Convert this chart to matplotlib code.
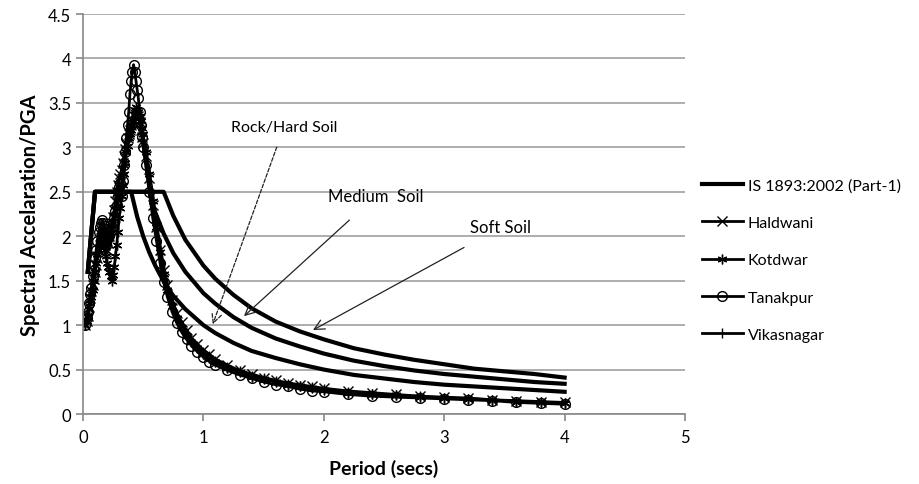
import matplotlib.pyplot as plt

plt.rcParams['font.family'] = ['Lato', 'DejaVu Sans']

# IS 1893 design spectra
code_period = [0.04, 0.10, 0.40, 0.45, 0.50, 0.55, 0.60, 0.67, 0.75, 0.85, 1.0, 1.1,
               1.25, 1.4, 1.6, 1.8, 2.0, 2.25, 2.5, 2.75, 3.0, 3.25, 3.5, 3.75, 4.0]
rock_sa = [1.6, 2.5, 2.5, 2.22, 2.0, 1.82, 1.67, 1.49, 1.33, 1.18, 1.0, 0.91,
           0.80, 0.71, 0.63, 0.56, 0.50, 0.44, 0.40, 0.36, 0.33, 0.31, 0.29, 0.27, 0.25]
medium_sa = [1.6, 2.5, 2.5, 2.5, 2.5, 2.5, 2.27, 2.03, 1.81, 1.60, 1.36, 1.24,
             1.09, 0.97, 0.85, 0.76, 0.68, 0.60, 0.54, 0.49, 0.45, 0.42, 0.39, 0.36, 0.34]
soft_sa = [1.6, 2.5, 2.5, 2.5, 2.5, 2.5, 2.5, 2.5, 2.23, 1.96, 1.67, 1.52,
           1.34, 1.19, 1.04, 0.93, 0.84, 0.74, 0.67, 0.61, 0.56, 0.51, 0.48, 0.45, 0.41]

# recorded spectra
period = [0.02, 0.03, 0.04, 0.05, 0.06, 0.07, 0.08, 0.09, 0.10, 0.11, 0.12, 0.13, 0.14, 0.15,
          0.16, 0.17, 0.18, 0.19, 0.20, 0.21, 0.22, 0.23, 0.24, 0.25, 0.26, 0.27, 0.28, 0.29,
          0.30, 0.31, 0.32, 0.33, 0.34, 0.35, 0.36, 0.37, 0.38, 0.39, 0.40, 0.41, 0.42, 0.43,
          0.44, 0.45, 0.46, 0.47, 0.48, 0.49, 0.50,
          0.52, 0.55, 0.58, 0.61, 0.64, 0.67, 0.70, 0.74, 0.78, 0.82, 0.86, 0.90, 0.95, 1.0,
          1.05, 1.1, 1.2, 1.3, 1.4, 1.5, 1.6, 1.7, 1.8, 1.9, 2.0, 2.2, 2.4, 2.6, 2.8, 3.0,
          3.2, 3.4, 3.6, 3.8, 4.0]
haldwani = [1.0, 1.05, 1.1, 1.2, 1.3, 1.38, 1.45, 1.52, 1.6, 1.68, 1.75, 1.85, 1.9, 1.98,
            1.95, 1.92, 1.9, 1.82, 1.85, 1.92, 2.0, 2.08, 2.15, 2.22, 2.3, 2.4, 2.5, 2.58,
            2.65, 2.7, 2.75, 2.82, 2.9, 2.98, 3.05, 3.1, 3.15, 3.2, 3.25, 3.3, 3.35, 3.38,
            3.4, 3.38, 3.35, 3.28, 3.2, 3.12, 3.05,
            2.9, 2.65, 2.35, 2.1, 1.85, 1.62, 1.45, 1.28, 1.14, 1.03, 0.94, 0.86, 0.79, 0.72,
            0.67, 0.62, 0.55, 0.49, 0.45, 0.41, 0.38, 0.35, 0.33, 0.31, 0.29, 0.26, 0.24, 0.22,
            0.20, 0.19, 0.18, 0.16, 0.15, 0.14, 0.13]
kotdwar = [1.0, 1.05, 1.1, 1.18, 1.25, 1.32, 1.4, 1.5, 1.6, 1.7, 1.8, 1.88, 1.95, 2.0,
           2.05, 1.95, 1.85, 1.78, 1.7, 1.65, 1.6, 1.55, 1.5, 1.56, 1.65, 1.78, 1.9, 2.05,
           2.2, 2.32, 2.45, 2.58, 2.7, 2.82, 2.95, 3.02, 3.1, 3.15, 3.2, 3.25, 3.3, 3.38,
           3.45, 3.42, 3.4, 3.35, 3.3, 3.22, 3.15,
           2.95, 2.7, 2.4, 2.1, 1.82, 1.58, 1.4, 1.22, 1.08, 0.97, 0.88, 0.81, 0.74, 0.68,
           0.63, 0.58, 0.52, 0.47, 0.42, 0.39, 0.36, 0.33, 0.31, 0.29, 0.27, 0.24, 0.22, 0.21,
           0.19, 0.18, 0.17, 0.16, 0.14, 0.13, 0.12]
tanakpur = [1.0, 1.08, 1.15, 1.25, 1.35, 1.42, 1.55, 1.62, 1.75, 1.85, 1.95, 2.05, 2.1, 2.15,
            2.18, 2.15, 2.12, 2.08, 2.05, 1.98, 2.0, 2.06, 2.1, 2.15, 2.2, 2.28, 2.35, 2.45,
            2.55, 2.6, 2.45, 2.62, 2.8, 2.95, 3.1, 3.25, 3.4, 3.6, 3.75, 3.85, 3.93, 3.85,
            3.75, 3.65, 3.55, 3.4, 3.25, 3.12, 3.0,
            2.8, 2.5, 2.2, 1.95, 1.7, 1.48, 1.32, 1.15, 1.02, 0.92, 0.84, 0.77, 0.70, 0.64,
            0.59, 0.55, 0.49, 0.44, 0.40, 0.36, 0.33, 0.31, 0.28, 0.26, 0.25, 0.22, 0.20, 0.19,
            0.18, 0.17, 0.16, 0.15, 0.13, 0.12, 0.11]
vikasnagar = [1.0, 1.06, 1.12, 1.2, 1.28, 1.4, 1.5, 1.6, 1.68, 1.76, 1.85, 1.92, 2.0, 2.05,
              2.1, 2.08, 2.05, 2.0, 1.95, 1.92, 1.9, 1.95, 2.0, 2.08, 2.15, 2.22, 2.3, 2.38,
              2.45, 2.52, 2.6, 2.7, 2.8, 2.9, 3.0, 3.08, 3.15, 3.22, 3.3, 3.34, 3.38, 3.4,
              3.42, 3.4, 3.38, 3.32, 3.25, 3.18, 3.1,
              3.0, 2.75, 2.45, 2.15, 1.9, 1.66, 1.46, 1.27, 1.12, 1.0, 0.91, 0.83, 0.76, 0.70,
              0.65, 0.60, 0.53, 0.48, 0.43, 0.40, 0.37, 0.34, 0.32, 0.30, 0.28, 0.25, 0.23, 0.21,
              0.20, 0.18, 0.17, 0.16, 0.14, 0.13, 0.12]

fig = plt.figure(figsize=(9.2, 4.85), dpi=100)
ax = fig.add_axes([0.0902, 0.1443, 0.6544, 0.8247])

lw = 3.0
ax.plot(code_period, rock_sa, color='black', lw=lw, label='IS 1893:2002 (Part-1)')
ax.plot(code_period, medium_sa, color='black', lw=lw)
ax.plot(code_period, soft_sa, color='black', lw=lw)

mk = dict(color='black', lw=2.0, markersize=7, markerfacecolor='none', markeredgewidth=1.0)
ax.plot(period, haldwani, marker='x', label='Haldwani', **mk)
ax.plot(period, kotdwar, marker=(6, 2, 0), label='Kotdwar', **mk)
ax.plot(period, tanakpur, marker='o', label='Tanakpur', **mk)
ax.plot(period, vikasnagar, marker='|', label='Vikasnagar', **mk)

# annotations
arr = dict(arrowstyle='->', color='#222222', lw=0.9, mutation_scale=18)
ax.annotate('Rock/Hard Soil', xy=(1.07, 0.98), xytext=(1.67, 3.23), ha='center', va='center',
            fontsize=11.5, arrowprops=dict(linestyle=(0, (3, 1.5)), shrinkA=8, **arr))
ax.annotate('Medium  Soil', xy=(1.32, 1.08), xytext=(2.43, 2.45), ha='center', va='center',
            fontsize=12, arrowprops=dict(shrinkA=14, **arr))
ax.annotate('Soft Soil', xy=(1.89, 0.93), xytext=(3.47, 2.1), ha='center', va='center',
            fontsize=12, arrowprops=dict(shrinkA=14, **arr))

ax.set_xlim(0, 5)
ax.set_ylim(0, 4.5)
ax.set_xticks([0, 1, 2, 3, 4, 5])
ax.set_yticks([0, 0.5, 1, 1.5, 2, 2.5, 3, 3.5, 4, 4.5])
ax.set_yticklabels(['0', '0.5', '1', '1.5', '2', '2.5', '3', '3.5', '4', '4.5'])
ax.grid(axis='y', color='#a0a0a0', lw=1.2)
ax.set_axisbelow(True)
for s in ['top', 'right']:
    ax.spines[s].set_visible(False)
for s in ['left', 'bottom']:
    ax.spines[s].set_color('#888888')
    ax.spines[s].set_linewidth(1.2)
ax.tick_params(axis='both', colors='#888888', length=5, width=1.2, labelsize=12, labelcolor='black')
ax.tick_params(axis='x', pad=6)

ax.set_xlabel('Period (secs)', fontsize=14, fontweight='bold', labelpad=10)
ax.set_ylabel('Spectral Accelaration/PGA', fontsize=14.5, fontweight='bold', labelpad=6)

fig.legend(loc='upper left', bbox_to_anchor=(0.747, 0.66), frameon=False, fontsize=11.5,
           handlelength=2.6, handletextpad=0.3, labelspacing=1.45)

fig.savefig('out.png', dpi=100)
